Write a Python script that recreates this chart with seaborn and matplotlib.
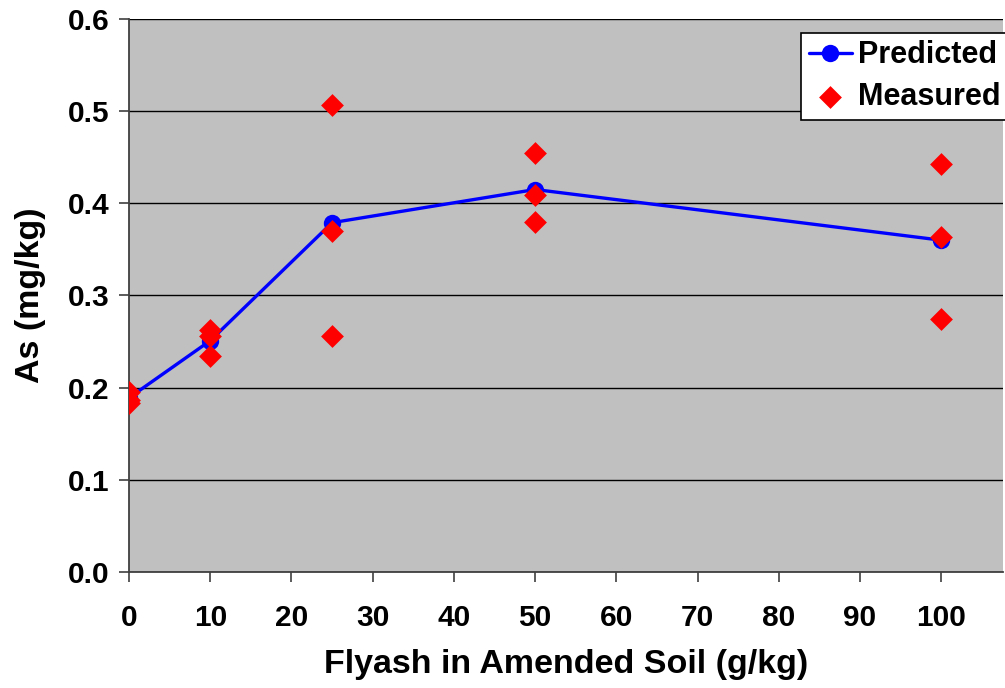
import matplotlib
matplotlib.use("Agg")
import matplotlib.pyplot as plt
import numpy as np
import pandas as pd
import seaborn as sns

# predicted As vs flyash dose
pred_x = [0, 10, 25, 50, 100]
pred_y = [0.189, 0.251, 0.379, 0.415, 0.360]

# measured replicates
meas_x = [0, 0, 0, 10, 10, 10, 25, 25, 25, 50, 50, 50, 100, 100, 100]
meas_y = [0.195, 0.187, 0.183, 0.263, 0.256, 0.234, 0.507, 0.370, 0.256,
          0.455, 0.409, 0.380, 0.443, 0.363, 0.274]

x_ticks = [0, 10, 20, 30, 40, 50, 60, 70, 80, 90, 100]
y_ticks = [0.0, 0.1, 0.2, 0.3, 0.4, 0.5, 0.6]

if __name__ == "__main__":
    sns.set_style("ticks")
    plt.rcParams["font.family"] = ["Liberation Sans", "DejaVu Sans"]
    plt.rcParams["font.weight"] = "bold"
    plt.rcParams["text.color"] = "black"
    plt.rcParams["axes.labelcolor"] = "black"
    plt.rcParams["xtick.color"] = "black"
    plt.rcParams["ytick.color"] = "black"

    fig = plt.figure(figsize=(10.05, 6.88), dpi=100)
    ax = fig.add_axes([0.1284, 0.1686, 0.8696, 0.8038])
    ax.set_facecolor("#C0C0C0")

    pred = pd.DataFrame({"x": pred_x, "y": pred_y})
    meas = pd.DataFrame({"x": meas_x, "y": meas_y})

    sns.lineplot(data=pred, x="x", y="y", ax=ax, color="#0000FF", linewidth=2.4,
                 marker="o", markersize=12.5, markeredgewidth=0, label="Predicted", zorder=3)
    sns.scatterplot(data=meas, x="x", y="y", ax=ax, color="#FF0000", marker="D",
                    s=135, linewidth=0, label="Measured", zorder=4)

    ax.set_xlim(0, 107.6)
    ax.set_ylim(0, 0.6)
    ax.set_xticks(x_ticks)
    ax.set_yticks(y_ticks)
    ax.set_yticklabels([f"{v:.1f}" for v in y_ticks])
    ax.yaxis.grid(True, color="black", linewidth=1)
    ax.set_axisbelow(True)
    for s in ["top", "right"]:
        ax.spines[s].set_visible(False)
    for s in ["left", "bottom"]:
        ax.spines[s].set_color("#404040")
        ax.spines[s].set_linewidth(1.3)
    ax.tick_params(axis="both", labelsize=21.5, length=7, width=1.2, color="#404040",
                   labelcolor="black")
    ax.tick_params(axis="x", pad=16)
    ax.tick_params(axis="y", pad=7)
    for lab in ax.get_xticklabels() + ax.get_yticklabels():
        lab.set_fontweight("bold")

    ax.set_xlabel("Flyash in Amended Soil (g/kg)", fontsize=24.5, fontweight="bold",
                  labelpad=12, color="black")
    ax.set_ylabel("As (mg/kg)", fontsize=24.5, fontweight="bold", labelpad=16, color="black")

    leg = ax.legend(loc="upper left", bbox_to_anchor=(0.769, 0.975), fontsize=22,
                    frameon=True, fancybox=False, framealpha=1, edgecolor="black",
                    borderpad=0.25, handlelength=1.4, handletextpad=0.2, labelspacing=0.38,
                    borderaxespad=0)
    leg.get_frame().set_linewidth(1.2)
    for t in leg.get_texts():
        t.set_fontweight("bold")
        t.set_color("black")

    fig.savefig("out.png", dpi=100)
